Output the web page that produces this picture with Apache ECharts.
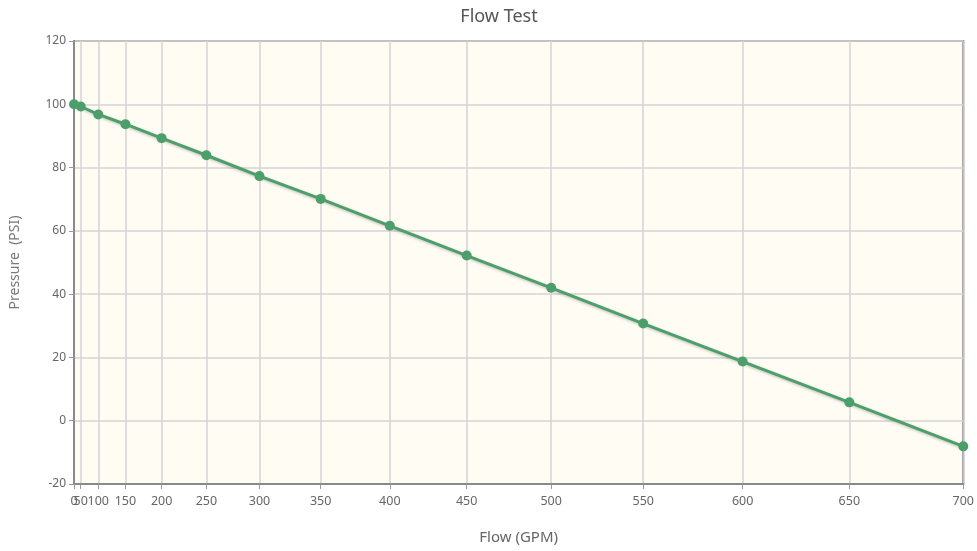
<!DOCTYPE html>
<html><head><meta charset="utf-8">
<script src="https://cdn.jsdelivr.net/npm/echarts@6/dist/echarts.min.js"></script>
<style>html,body{margin:0;padding:0;background:#fff}#c{width:977px;height:551px}</style>
</head><body><div id="c"></div>
<script>
const flowTicks = [0, 50, 100, 150, 200, 250, 300, 350, 400, 450, 500, 550, 600, 650, 700];
const flows = [0, 50, 100, 150, 200, 250, 300, 350, 400, 450, 500, 550, 600, 650, 700];
const pressures = [100, 99.3, 96.8, 93.7, 89.3, 83.9, 77.3, 70.1, 61.6, 52.2, 42.0, 30.7, 18.7, 5.8, -8.1];
const EXP = 1.85; // hydraulic N^1.85 scale
const f = q => Math.pow(q, EXP);
const inv = v => Math.round(Math.pow(v, 1 / EXP));

const chart = echarts.init(document.getElementById('c'));
const font = "'Noto Sans', 'Open Sans', sans-serif";
const labelStyle = { color: '#666', fontSize: 12.5, margin: 11, hideOverlap: false,
  showMinLabel: true, showMaxLabel: true, formatter: v => String(inv(v)) };
const evenTicks = flowTicks.filter((t, i) => i % 2 === 0);
const oddTicks = flowTicks.filter((t, i) => i % 2 === 1);
chart.setOption({
  animation: false,
  textStyle: { fontFamily: font },
  title: { text: 'Flow Test', left: 494, textAlign: 'center', top: 3,
    textStyle: { fontSize: 18, fontWeight: 'normal', color: '#555', fontFamily: font } },
  grid: { left: 74, right: 10, top: 41, bottom: 67, show: true,
    backgroundColor: '#fffcf4', borderColor: '#8a8a8a', borderWidth: 2 },
  xAxis: [{
    type: 'value', min: 0, max: f(700),
    name: 'Flow (GPM)', nameLocation: 'middle', nameGap: 46,
    nameTextStyle: { fontSize: 15, color: '#666' },
    axisLine: { show: true, onZero: false, lineStyle: { color: '#8a8a8a', width: 2 } },
    axisTick: { show: true, length: 5, customValues: flowTicks.map(f), lineStyle: { color: '#999' } },
    axisLabel: Object.assign({ customValues: evenTicks.map(f) }, labelStyle),
    splitLine: { show: true, lineStyle: { color: '#d4d4d4', width: 1.5 } }
  }, {
    type: 'value', min: 0, max: f(700), position: 'bottom',
    axisLine: { show: false, onZero: false }, axisTick: { show: false }, splitLine: { show: false },
    axisLabel: Object.assign({ customValues: oddTicks.map(f) }, labelStyle)
  }],
  yAxis: {
    type: 'value', min: -20, max: 120, interval: 20,
    name: 'Pressure  (PSI)', nameLocation: 'middle', nameGap: 52,
    nameTextStyle: { fontSize: 14, color: '#777' },
    axisLine: { show: true, onZero: false, lineStyle: { color: '#8a8a8a', width: 2 } },
    axisTick: { show: true, length: 5, lineStyle: { color: '#999' } },
    axisLabel: { color: '#666', fontSize: 12, margin: 8 },
    splitLine: { show: true, lineStyle: { color: '#d4d4d4', width: 1.5 } }
  },
  series: [{
    type: 'line', xAxisIndex: 0,
    data: flows.map((q, i) => [f(q), pressures[i]]),
    symbol: 'circle', symbolSize: 10,
    itemStyle: { color: '#4c9f6b' },
    lineStyle: { color: '#4c9f6b', width: 3, shadowColor: 'rgba(0,0,0,0.25)', shadowBlur: 3, shadowOffsetY: 1 },
    clip: false
  }]
});
</script></body></html>
